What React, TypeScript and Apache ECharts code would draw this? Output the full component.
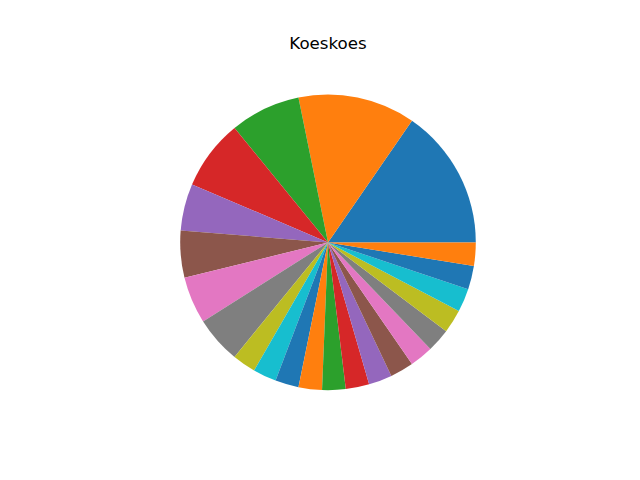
import React, { useEffect, useRef } from "react";
import * as echarts from "echarts";

const categories: string[] = Array.from({ length: 22 }, (_, i) => `Slice ${i + 1}`);
const values: number[] = [6, 5, 3, 3, 2, 2, 2, 2, 1, 1, 1, 1, 1, 1, 1, 1, 1, 1, 1, 1, 1, 1];
const palette: string[] = [
  "#1f77b4", "#ff7f0e", "#2ca02c", "#d62728", "#9467bd",
  "#8c564b", "#e377c2", "#7f7f7f", "#bcbd22", "#17becf",
];
const titleText = "Koeskoes";

export default function App() {
  const ref = useRef<HTMLDivElement>(null);
  useEffect(() => {
    if (!ref.current) return;
    const chart = echarts.init(ref.current, undefined, { renderer: "svg" });
    chart.setOption({
      animation: false,
      backgroundColor: "#ffffff",
      color: palette,
      graphic: [
        {
          type: "text",
          style: {
            text: titleText,
            x: 328,
            y: 43,
            textAlign: "center",
            textVerticalAlign: "middle",
            fontSize: 16.67,
            fontFamily: "DejaVu Sans",
            fill: "#000000",
          },
        },
      ],
      series: [
        {
          type: "pie",
          center: [328, 242.4],
          radius: [0, 147.8],
          startAngle: 0,
          clockwise: false,
          label: { show: false },
          labelLine: { show: false },
          emphasis: { disabled: true },
          itemStyle: { borderWidth: 0 },
          data: categories.map((name, i) => ({
            name,
            value: values[i],
            itemStyle: { color: palette[i % palette.length] },
          })),
        },
      ],
    });
    return () => chart.dispose();
  }, []);
  return (
    <div
      ref={ref}
      style={{ position: "absolute", left: 0, top: 0, width: 640, height: 480 }}
    />
  );
}
